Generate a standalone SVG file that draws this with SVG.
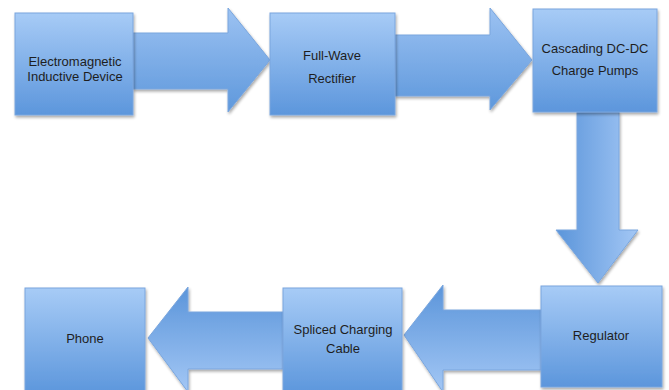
<svg xmlns="http://www.w3.org/2000/svg" width="669" height="390" viewBox="0 0 669 390">
  <defs>
    <linearGradient id="boxFill" x1="0" y1="0" x2="0" y2="1">
      <stop offset="0" stop-color="#a7cbf6"/>
      <stop offset="1" stop-color="#5c96dc"/>
    </linearGradient>
    <!-- arrow fills: light side then dark side, turned with the arrow direction -->
    <linearGradient id="arrRight" x1="0" y1="0" x2="0" y2="1">
      <stop offset="0" stop-color="#9cc2f2"/>
      <stop offset="1" stop-color="#5e98dc"/>
    </linearGradient>
    <linearGradient id="arrDown" x1="1" y1="0" x2="0" y2="0">
      <stop offset="0" stop-color="#a3c7f5"/>
      <stop offset="1" stop-color="#5b95da"/>
    </linearGradient>
    <linearGradient id="arrLeft" x1="0" y1="1" x2="0" y2="0">
      <stop offset="0" stop-color="#a3c7f5"/>
      <stop offset="1" stop-color="#5b95da"/>
    </linearGradient>
    <filter id="shadow" x="-10%" y="-10%" width="125%" height="125%">
      <feGaussianBlur in="SourceAlpha" stdDeviation="1.5"/>
      <feOffset dx="1" dy="2" result="b"/>
      <feComponentTransfer><feFuncA type="linear" slope="0.35"/></feComponentTransfer>
      <feMerge><feMergeNode/><feMergeNode in="SourceGraphic"/></feMerge>
    </filter>
  </defs>
  <style>
    .box { fill: url(#boxFill); stroke: #7aa6de; stroke-width: 1; filter: url(#shadow); }
    .arrow { stroke: #7aa6de; stroke-width: 1; filter: url(#shadow); }
    .label { font-family: "Liberation Sans", Arial, sans-serif; font-size: 13px; fill: #1e1e1e; text-anchor: middle; }
  </style>

  <rect width="669" height="390" fill="#ffffff"/>

  <g id="connectors">
    <path class="arrow" fill="url(#arrRight)" d="M133,33 H228 V8 L270,60 L228,112 V89 H133 Z"/>
    <path class="arrow" fill="url(#arrRight)" d="M395,35 H490 V8 L532,60 L490,110 V96 H395 Z"/>
    <path class="arrow" fill="url(#arrDown)" d="M577,112 H619 V230 H638 L598,283 L556,230 H577 Z"/>
    <path class="arrow" fill="url(#arrLeft)" d="M541,310 H443 V285 L404,335 L443,392 V370 H541 Z"/>
    <path class="arrow" fill="url(#arrLeft)" d="M283,312 H188 V287 L148,338 L188,392 V369 H283 Z"/>
  </g>

  <g id="electromagnetic-device">
    <rect class="box" x="15" y="13" width="118" height="102"/>
    <text class="label" x="75" y="66">Electromagnetic</text>
    <text class="label" x="75" y="81">Inductive Device</text>
  </g>

  <g id="full-wave-rectifier">
    <rect class="box" x="270" y="13" width="125" height="102"/>
    <text class="label" x="332" y="60">Full-Wave</text>
    <text class="label" x="332" y="83">Rectifier</text>
  </g>

  <g id="charge-pumps">
    <rect class="box" x="533" y="9" width="124" height="103"/>
    <text class="label" x="595" y="53">Cascading DC-DC</text>
    <text class="label" x="595" y="75">Charge Pumps</text>
  </g>

  <g id="regulator">
    <rect class="box" x="541" y="286" width="121" height="101"/>
    <text class="label" x="601" y="340">Regulator</text>
  </g>

  <g id="spliced-cable">
    <rect class="box" x="283" y="288" width="119" height="106"/>
    <text class="label" x="343" y="334">Spliced Charging</text>
    <text class="label" x="343" y="353">Cable</text>
  </g>

  <g id="phone">
    <rect class="box" x="25" y="288" width="120" height="106"/>
    <text class="label" x="85" y="343">Phone</text>
  </g>
</svg>
